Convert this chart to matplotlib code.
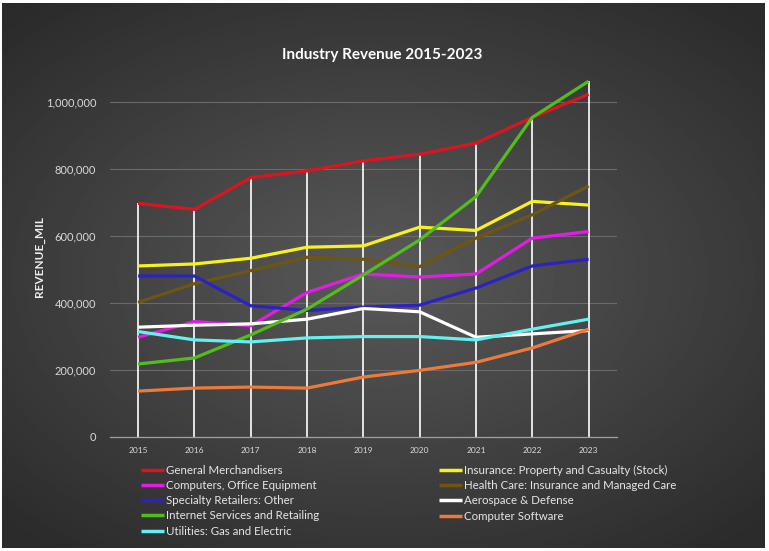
import numpy as np
import matplotlib
matplotlib.use("Agg")
import matplotlib.pyplot as plt
from matplotlib.ticker import FuncFormatter

plt.rcParams['font.family'] = ['Lato', 'DejaVu Sans']

years = [2015, 2016, 2017, 2018, 2019, 2020, 2021, 2022, 2023]

general_merch = [698000, 680000, 775000, 795000, 825000, 845000, 878000, 955000, 1024000]
insurance_pc = [511000, 517000, 534000, 567000, 571000, 627000, 617000, 704000, 693000]
computers_office = [298000, 345000, 332000, 432000, 487000, 478000, 487000, 594000, 614000]
health_care = [402000, 458000, 497000, 537000, 531000, 509000, 594000, 664000, 750000]
specialty_retail = [481000, 481000, 392000, 378000, 388000, 394000, 445000, 511000, 531000]
aerospace = [328000, 334000, 338000, 352000, 384000, 374000, 298000, 308000, 318000]
internet = [218000, 236000, 305000, 382000, 484000, 589000, 718000, 955000, 1063000]
software = [137000, 146000, 149000, 146000, 179000, 199000, 223000, 266000, 322000]
utilities = [315000, 290000, 284000, 296000, 300000, 300000, 290000, 322000, 352000]

series_names = [
    "General Merchandisers",
    "Insurance: Property and Casualty (Stock)",
    "Computers, Office Equipment",
    "Health Care: Insurance and Managed Care",
    "Specialty Retailers: Other",
    "Aerospace & Defense",
    "Internet Services and Retailing",
    "Computer Software",
    "Utilities: Gas and Electric",
]
series_values = [general_merch, insurance_pc, computers_office, health_care,
                 specialty_retail, aerospace, internet, software, utilities]
series_colors = ["#DC1420", "#F7F21A", "#E21CE6", "#6E5612", "#2C22C4",
                 "#FFFFFF", "#52BE1C", "#EC7A3A", "#62F0F0"]

fig = plt.figure(figsize=(7.69, 5.51), dpi=100, facecolor="white")

# dark radial background
bg = fig.add_axes([0.003, 0.005, 0.992, 0.99])
yy, xx = np.mgrid[-1:1:300j, -1:1:420j]
r = np.sqrt((xx * 0.95) ** 2 + (yy * 1.05) ** 2)
shade = 0.35 - 0.18 * np.clip(r / 1.35, 0, 1)
bg.imshow(shade, cmap="gray", vmin=0, vmax=1, aspect="auto",
          extent=[0, 1, 0, 1], interpolation="bilinear")
bg.set_axis_off()

ax = fig.add_axes([0.143, 0.207, 0.659, 0.668])
ax.set_facecolor("none")

# horizontal gridlines
for v in [200000, 400000, 600000, 800000, 1000000]:
    ax.axhline(v, color="#6a6a6a", lw=0.8, zorder=1)

# drop lines up to the highest series at each year
tops = np.max(np.array(series_values), axis=0)
ax.vlines(years, 0, tops, color="white", lw=1.2, zorder=2)

lines = []
for name, vals, c in zip(series_names, series_values, series_colors):
    ln, = ax.plot(years, vals, color=c, lw=2.3, label=name, zorder=3,
                  solid_capstyle="butt")
    lines.append(ln)

ax.set_xlim(2014.5, 2023.5)
ax.set_ylim(0, 1100000)
ax.set_xticks(years)
ax.set_yticks([0, 200000, 400000, 600000, 800000, 1000000])
ax.yaxis.set_major_formatter(FuncFormatter(lambda v, p: f"{int(v):,}"))
ax.tick_params(axis="x", length=0, colors="#d9d9d9", labelsize=6, pad=7)
ax.tick_params(axis="y", length=0, colors="#d9d9d9", labelsize=8, pad=10)
for s in ["top", "right", "left"]:
    ax.spines[s].set_visible(False)
ax.spines["bottom"].set_color("#a0a0a0")
ax.spines["bottom"].set_linewidth(0.9)

ax.set_ylabel("REVENUE_MIL", color="#eeeeee", fontsize=8.5, fontweight="bold")
ax.yaxis.set_label_coords(-0.128, 0.49)
fig.text(0.497, 0.9, "Industry Revenue 2015-2023", color="white",
         fontsize=11, fontweight="bold", ha="center", va="center")

# legend in two columns, same row order as the original
leg_kw = dict(loc="upper left", frameon=False, fontsize=8.3,
              labelcolor="#e6e6e6", handlelength=2.0, handletextpad=0.15,
              labelspacing=0.36, borderaxespad=0, borderpad=0)
col1 = [0, 2, 4, 6, 8]
col2 = [1, 3, 5, 7]
for idx, x0 in [(col1, 0.183), (col2, 0.571)]:
    leg = fig.legend([lines[i] for i in idx], [series_names[i] for i in idx],
                     bbox_to_anchor=(x0, 0.156), **leg_kw)
    for h in leg.legend_handles:
        h.set_linewidth(2.5)

fig.savefig("out.png", dpi=100, facecolor=fig.get_facecolor())
